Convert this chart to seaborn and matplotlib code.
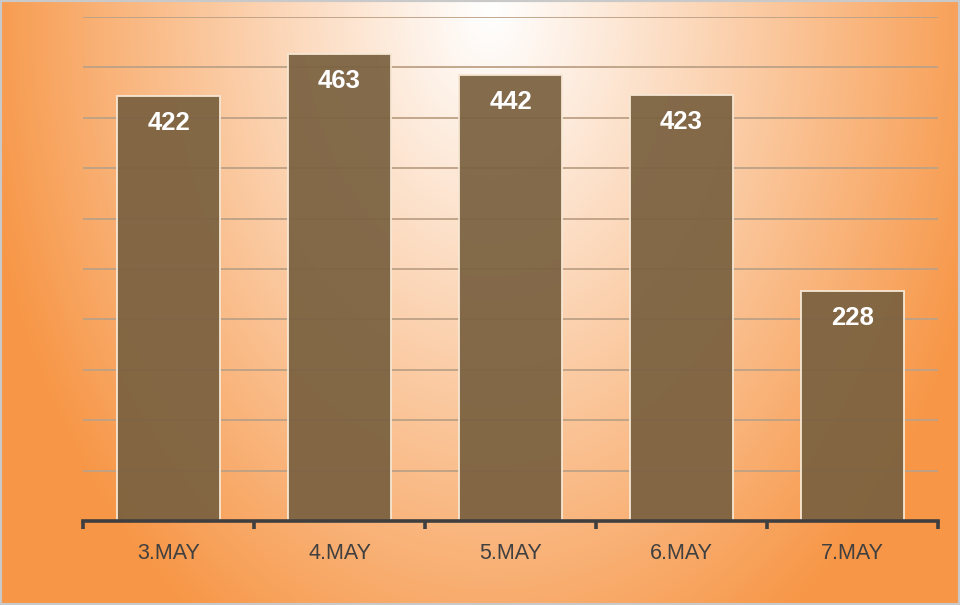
import numpy as np
import pandas as pd
import matplotlib
matplotlib.use("Agg")
import matplotlib.pyplot as plt
import seaborn as sns
from matplotlib.patches import Rectangle

categories = ["3.MAY", "4.MAY", "5.MAY", "6.MAY", "7.MAY"]
values = [422, 463, 442, 423, 228]
grid_ticks = [50, 100, 150, 200, 250, 300, 350, 400, 450, 500]

sns.set_theme(style="white")
plt.rcParams['font.family'] = ['Liberation Sans', 'DejaVu Sans']

W, H = 960, 605
fig = plt.figure(figsize=(W / 100, H / 100), dpi=100)

# radial gradient background
bg = fig.add_axes([0, 0, 1, 1], zorder=-10)
yy, xx = np.mgrid[0:H, 0:W]
dx = (xx - 490) / 520.0
dy = (yy - 10) / 740.0
r = np.sqrt(dx ** 2 + dy ** 2)
t = np.clip(r / 1.0, 0, 1) ** 1.05
white = np.array([1.0, 1.0, 1.0])
orange = np.array([247, 150, 70]) / 255.0
img = white[None, None, :] * (1 - t[..., None]) + orange[None, None, :] * t[..., None]
bg.imshow(img, aspect="auto", extent=[0, 1, 0, 1], origin="upper")
bg.set_axis_off()

left, right, top, bottom = 83, 938, 17, 521
ax = fig.add_axes([left / W, (H - bottom) / H, (right - left) / W, (bottom - top) / H])
ax.set_facecolor("none")

df = pd.DataFrame({"day": categories, "count": values})
sns.barplot(data=df, x="day", y="count", ax=ax, color="#7a6140", saturation=1,
            width=0.6, edgecolor="#f6e7d3", linewidth=1.4, alpha=0.93, zorder=3)

ax.set_ylim(0, 500)
ax.set_xlim(-0.5, len(categories) - 0.5)
ax.set_yticks(grid_ticks)
ax.set_yticklabels([])
ax.tick_params(axis="y", length=0)
ax.yaxis.grid(True, color="#bda186", linewidth=1.3, zorder=1)
ax.set_axisbelow(True)
ax.set_xlabel("")
ax.set_ylabel("")

for s in ["left", "right", "top"]:
    ax.spines[s].set_visible(False)
ax.spines["bottom"].set_color("#3f3f3f")
ax.spines["bottom"].set_linewidth(2.6)
ax.spines["bottom"].set_zorder(5)

ax.set_xticks(np.arange(-0.5, len(categories)), minor=True)
ax.tick_params(axis="x", which="minor", bottom=True, length=6, width=2.6,
               color="#3f3f3f", direction="out")
ax.tick_params(axis="x", which="major", bottom=False, length=0, pad=16,
               labelsize=15.5, labelcolor="#404040")

for i, v in enumerate(values):
    ax.annotate(str(v), xy=(i, v), xytext=(0, -27), textcoords="offset pixels",
                ha="center", va="center", color="white", fontsize=18.5,
                fontweight="bold", zorder=6)

fig.add_artist(Rectangle((0, 0), 1, 1, transform=fig.transFigure, fill=False,
                         edgecolor="#c9c9c9", linewidth=3, zorder=20))

fig.savefig("out.png", dpi=100)
